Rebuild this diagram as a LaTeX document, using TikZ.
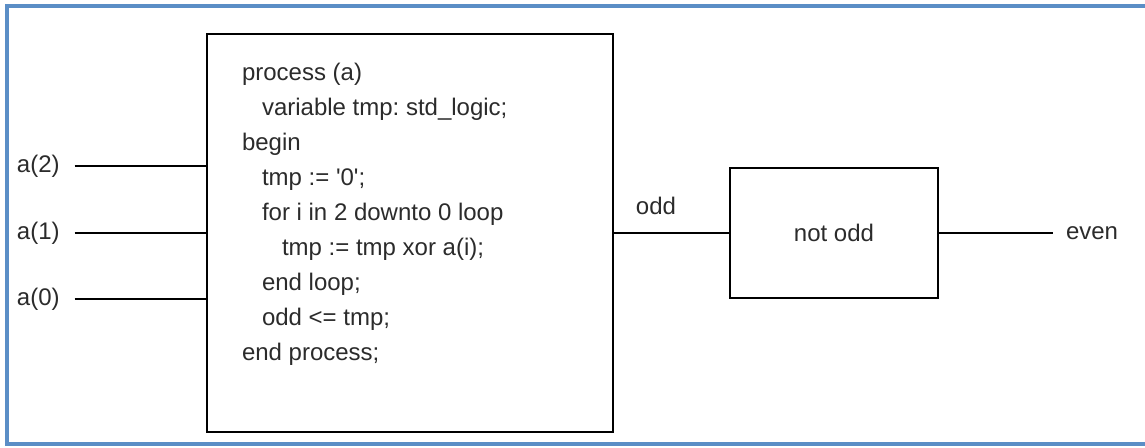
\documentclass[tikz,border=0pt]{standalone}
\usepackage{fontspec}
\setmainfont{Liberation Sans}
\usetikzlibrary{positioning}
\definecolor{txtgray}{HTML}{2B2B2B}
\definecolor{frameblue}{HTML}{5B8EC6}
\frenchspacing

\begin{document}
\begin{tikzpicture}[x=0.5pt,y=-0.5pt,
    every node/.style={inner sep=0,outer sep=0,text=txtgray,
                       font=\fontsize{12}{17.5}\selectfont},
    wire/.style={line width=1.4pt},
    blockbox/.style={draw,line width=1.4pt}]
      \useasboundingbox (0,0) rectangle (1145,447);
      \draw[frameblue,line width=2pt](7,6) rectangle (1170,444);

      % process block and its code
      \node(proc)[blockbox,minimum width=203pt,minimum height=199pt] at (410,233){};
      \node(c1)[anchor=north west] at (242,55.5){process (a)\strut};
      \node(c2)[below=0mm of c1.south west,anchor=north west,xshift=10pt]{variable tmp: std\_logic;\strut};
      \node(c3)[below=0mm of c1.south west,anchor=north west,yshift=-17.5pt]{begin\strut};
      \node(c4)[below=0mm of c3.south west,anchor=north west,xshift=10pt]{tmp := \textquotesingle 0\textquotesingle;\strut};
      \node(c5)[below=0mm of c4.south west,anchor=north west]{for i in 2 downto 0 loop\strut};
      \node(c6)[below=0mm of c5.south west,anchor=north west,xshift=10pt]{tmp := tmp xor a(i);\strut};
      \node(c7)[below=0mm of c5.south west,anchor=north west,yshift=-17.5pt]{end loop;\strut};
      \node(c8)[below=0mm of c7.south west,anchor=north west]{odd <= tmp;\strut};
      \node(c9)[below=0mm of c3.south west,anchor=north west,yshift=-87.5pt]{end process;\strut};

      % inputs
      \node(a2)[anchor=west] at (17,166){a(2)};
      \node(a1)[anchor=west] at (17,233){a(1)};
      \node(a0)[anchor=west] at (17,299){a(0)};
      \draw[wire]([xshift=7.5pt]a2.east)--(proc.west|-a2.east);
      \draw[wire]([xshift=7.5pt]a1.east)--(proc.west|-a1.east);
      \draw[wire]([xshift=7.5pt]a0.east)--(proc.west|-a0.east);

      % inverter
      \node(notodd)[blockbox,minimum width=104pt,minimum height=65pt] at (834,233){not odd};
      \node(odd) at (656,206){odd};
      \node(even)[anchor=west] at (1066,233){even};
      \draw[wire](proc.east)--(notodd.west);
      \draw[wire](notodd.east)--([xshift=-6.5pt]even.west);
    \end{tikzpicture}
\end{document}
